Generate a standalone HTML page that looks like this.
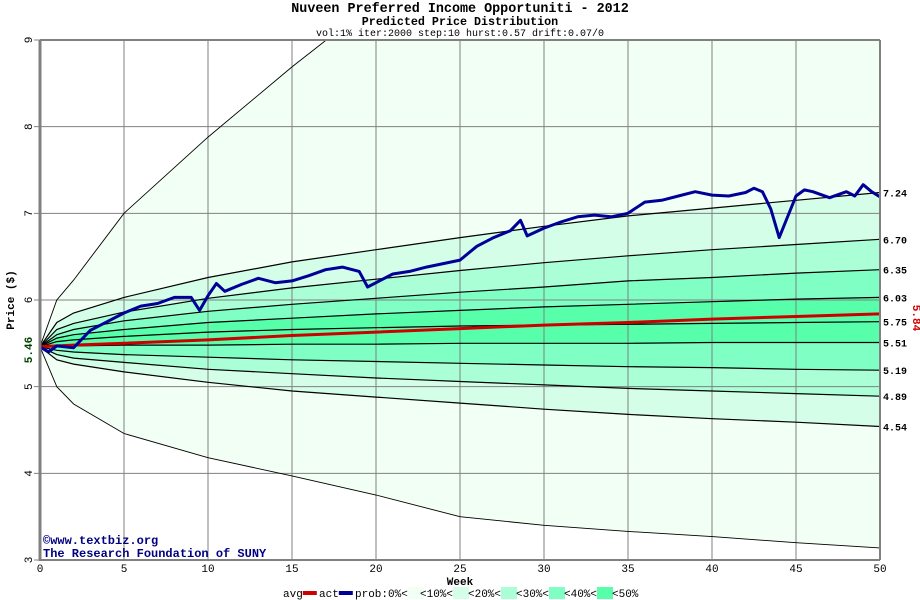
<!DOCTYPE html>
<html><head><meta charset="utf-8"><style>
body{margin:0;background:#fff;width:920px;height:600px;overflow:hidden}
svg{display:block}
text{font-family:"Liberation Mono",monospace}
</style></head><body>
<svg id="c" width="920" height="600">
<defs><clipPath id="clip"><rect x="40" y="40" width="840" height="520"/></clipPath></defs>
<text x="460" y="12" text-anchor="middle" font-size="13.4" font-weight="bold">Nuveen Preferred Income Opportuniti - 2012</text>
<text x="460" y="25" text-anchor="middle" font-size="11.7" font-weight="bold">Predicted Price Distribution</text>
<text x="460" y="36" text-anchor="middle" font-size="10">vol:1% iter:2000 step:10 hurst:0.57 drift:0.07/0</text>
<g id="bands" clip-path="url(#clip)"></g>
<g id="grid"></g>
<g id="lines" clip-path="url(#clip)"></g>
<g id="axes"></g>
<text x="43" y="544" font-size="12" font-weight="bold" fill="#000080">©www.textbiz.org</text>
<text x="43" y="557" font-size="12" font-weight="bold" fill="#000080">The Research Foundation of SUNY</text>
<text x="460" y="585" text-anchor="middle" font-size="11" font-weight="bold">Week</text>
<text transform="translate(14,300) rotate(-90)" text-anchor="middle" font-size="11" font-weight="bold">Price ($)</text>
<text transform="translate(32,350) rotate(-90)" text-anchor="middle" font-size="11" font-weight="bold" fill="#004000">5.46</text>
<text transform="translate(913,318) rotate(90)" text-anchor="middle" font-size="11" font-weight="bold" fill="#cc0000">5.84</text>
<g id="legend"></g>
</svg>
<script>
const weeks=[0,1,2,5,10,15,20,25,30,35,40,45,50];
const outerUp=[5.46,6.0,6.23,7.0,7.88,8.69,9.45,10.2,10.9,11.6,12.3,13.0,13.6];
const outerLo=[5.46,5.0,4.8,4.46,4.18,3.97,3.75,3.50,3.40,3.33,3.27,3.20,3.14];
const p10Up=[5.46,5.74,5.85,6.03,6.26,6.44,6.58,6.72,6.85,6.97,7.06,7.15,7.24];
const p20Up=[5.46,5.66,5.73,5.86,6.02,6.14,6.24,6.34,6.43,6.51,6.58,6.64,6.70];
const p30Up=[5.46,5.60,5.66,5.76,5.87,5.95,6.02,6.09,6.15,6.22,6.26,6.31,6.35];
const p40Up=[5.46,5.56,5.60,5.66,5.74,5.79,5.84,5.88,5.92,5.95,5.98,6.01,6.03];
const p50Up=[5.46,5.52,5.54,5.58,5.63,5.66,5.68,5.70,5.71,5.72,5.73,5.74,5.75];
const p50Lo=[5.46,5.47,5.47,5.48,5.48,5.49,5.49,5.50,5.50,5.50,5.51,5.51,5.51];
const p40Lo=[5.46,5.42,5.40,5.37,5.34,5.31,5.29,5.27,5.25,5.23,5.22,5.20,5.19];
const p30Lo=[5.46,5.37,5.33,5.28,5.20,5.15,5.10,5.06,5.02,4.98,4.95,4.92,4.89];
const p20Lo=[5.46,5.31,5.26,5.17,5.05,4.95,4.88,4.81,4.74,4.68,4.63,4.59,4.54];
const avgVals=[5.46,5.47,5.48,5.50,5.54,5.59,5.63,5.67,5.71,5.74,5.78,5.81,5.84];
const actWeeks=[0,0.5,1,2,2.5,3,4,5,6,7,8,9,9.5,10,10.5,11,12,13,14,15,16,17,18,19,19.5,20,21,22,23,24,25,26,27,28,28.6,29,30,31,32,33,34,35,36,37,38,39,40,41,42,42.5,43,43.5,44,45,45.5,46,47,48,48.5,49,49.5,50];
const actVals=[5.46,5.40,5.47,5.45,5.55,5.65,5.75,5.85,5.93,5.96,6.03,6.03,5.88,6.05,6.19,6.10,6.18,6.25,6.20,6.22,6.28,6.35,6.38,6.33,6.15,6.20,6.30,6.33,6.38,6.42,6.46,6.62,6.72,6.80,6.92,6.74,6.83,6.90,6.96,6.98,6.96,7.00,7.13,7.15,7.20,7.25,7.21,7.20,7.24,7.29,7.25,7.05,6.72,7.20,7.27,7.25,7.18,7.25,7.20,7.33,7.25,7.19];
const endLabels=["7.24","6.70","6.35","6.03","5.75","5.51","5.19","4.89","4.54"];
const xTicks=[0,5,10,15,20,25,30,35,40,45,50];
const yTicks=[3,4,5,6,7,8,9];
const NS="http://www.w3.org/2000/svg";
const X=w=>40+w*16.8, Y=p=>40+(9-p)*(520/6);
function mk(t,a,parent){const e=document.createElementNS(NS,t);for(const k in a)e.setAttribute(k,a[k]);parent.appendChild(e);return e;}
function pts(ws,vs){return ws.map((w,i)=>X(w).toFixed(1)+","+Y(vs[i]).toFixed(1));}
const bands=document.getElementById('bands'),lines=document.getElementById('lines'),grid=document.getElementById('grid'),axes=document.getElementById('axes'),legend=document.getElementById('legend');
const pairs=[[outerUp,outerLo,'#f2fff4'],[p10Up,p20Lo,'#d4fee8'],[p20Up,p30Lo,'#aaffd6'],[p30Up,p40Lo,'#80ffc4'],[p40Up,p50Lo,'#58ffaa']];
pairs.forEach((b,i)=>{const d="M"+pts(weeks,b[0]).join(" L")+" L"+pts(weeks,b[1]).reverse().join(" L")+" Z";
const e=mk('path',{d:d,fill:b[2]},bands);

});
xTicks.forEach(w=>{const l=mk('line',{x1:X(w),x2:X(w),y1:40,y2:560,stroke:'#808080','stroke-width':1},grid);


const t=mk('text',{x:X(w),y:572,'text-anchor':'middle','font-size':11},axes);t.textContent=w;

});
yTicks.forEach(p=>{const l=mk('line',{x1:34,x2:880,y1:Y(p),y2:Y(p),stroke:'#808080','stroke-width':1},grid);


const t=mk('text',{transform:`translate(32,${Y(p)}) rotate(-90)`,'text-anchor':'middle','font-size':11},axes);t.textContent=p;

});
const curves=[outerUp,p10Up,p20Up,p30Up,p40Up,p50Up,p50Lo,p40Lo,p30Lo,p20Lo,outerLo];
curves.forEach((c,i)=>{const e=mk('polyline',{points:pts(weeks,c).join(" "),fill:'none',stroke:'#000','stroke-width':i==0||i==10?0.9:1.2},lines);

});
const avg=mk('polyline',{points:pts(weeks,avgVals).join(" "),fill:'none',stroke:'#cc0000','stroke-width':3},lines);


const act=mk('polyline',{points:pts(actWeeks,actVals).join(" "),fill:'none',stroke:'#000099','stroke-width':3,'stroke-linejoin':'round'},lines);


const ends=[p10Up,p20Up,p30Up,p40Up,p50Up,p50Lo,p40Lo,p30Lo,p20Lo];
ends.forEach((c,i)=>{const t=mk('text',{x:883,y:Y(c[c.length-1])+4,'font-size':10,'font-weight':'bold'},axes);t.textContent=endLabels[i];

});
const fr=mk('path',{d:'M40,40 L880,40 M880,40 L880,560 M40,560 L880,560',stroke:'#808080','stroke-width':2,fill:'none'},axes);


const la=mk('line',{x1:40,x2:40,y1:40,y2:561,stroke:'#808080','stroke-width':3},axes);


const lg=[["avg",'#cc0000',283,"line"],["act",'#000099',319,"line"],["prob:0%<",'#f2fff4',355,"box"],["<10%<",'#d4fee8',420,"box"],["<20%<",'#aaffd6',468,"box"],["<30%<",'#80ffc4',516,"box"],["<40%<",'#58ffaa',564,"box"],["<50%",'',612,""]];
lg.forEach(g=>{const t=mk('text',{x:g[2],y:597,'font-size':11},legend);t.textContent=g[0];


const tx=g[2]+g[0].length*6.6;
if(g[3]=="line"){const r=mk('rect',{x:tx,y:591,width:14,height:4,fill:g[1]},legend);

}
else if(g[3]=="box"){const r=mk('rect',{x:tx,y:587,width:16,height:12,fill:g[1]},legend);

}});
</script>
</body></html>
